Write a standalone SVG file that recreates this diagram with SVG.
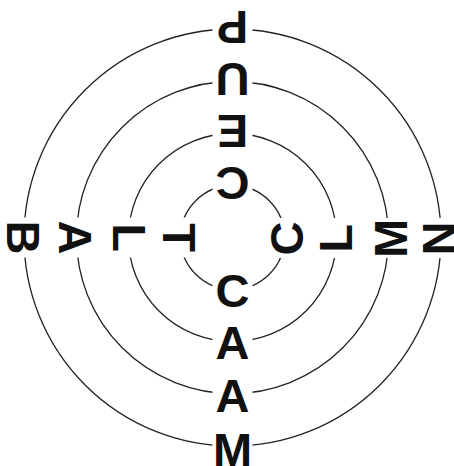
<svg xmlns="http://www.w3.org/2000/svg" width="454" height="466" viewBox="0 0 454 466">
  <style>
    .ring { fill: none; stroke: #222; stroke-width: 1.3; }
    .ltr { font-family: "Liberation Sans", Arial, sans-serif; font-weight: bold; font-size: 47px; fill: #111; text-anchor: middle; }
  </style>
  <defs>
    <mask id="gaps" maskUnits="userSpaceOnUse" x="0" y="0" width="454" height="466">
      <rect x="0" y="0" width="454" height="466" fill="#fff"/>
      <g fill="#000">
        <rect x="212.5" y="162" width="40" height="44"/>
        <rect x="212.5" y="110" width="40" height="44"/>
        <rect x="212.5" y="58" width="40" height="44"/>
        <rect x="212.5" y="6" width="40" height="44"/>
        <rect x="212.5" y="269" width="40" height="44"/>
        <rect x="212.5" y="321" width="40" height="44"/>
        <rect x="212.5" y="373" width="40" height="44"/>
        <rect x="212.5" y="425" width="40" height="44"/>
        <rect x="157.5" y="217.5" width="44" height="40"/>
        <rect x="105.5" y="217.5" width="44" height="40"/>
        <rect x="53.5" y="217.5" width="44" height="40"/>
        <rect x="1.5" y="217.5" width="44" height="40"/>
        <rect x="263.5" y="218" width="44" height="40"/>
        <rect x="315.5" y="218" width="44" height="40"/>
        <rect x="367.5" y="218" width="44" height="40"/>
        <rect x="419.5" y="218" width="44" height="40"/>
      </g>
    </mask>
  </defs>
  <g id="connectors" mask="url(#gaps)">
    <circle class="ring" cx="232.5" cy="237.5" r="52"/>
    <circle class="ring" cx="232.5" cy="237.5" r="104"/>
    <circle class="ring" cx="232.5" cy="237.5" r="156"/>
    <circle class="ring" cx="232.5" cy="237.5" r="208.5"/>
  </g>
  <g id="top-C" transform="translate(232.5,184) rotate(180)"><text class="ltr" x="0" y="17">C</text></g>
  <g id="top-E" transform="translate(232.5,132) rotate(180)"><text class="ltr" x="0" y="17">E</text></g>
  <g id="top-U" transform="translate(232.5,80) rotate(180)"><text class="ltr" x="0" y="17">U</text></g>
  <g id="top-P" transform="translate(232.5,28) rotate(180)"><text class="ltr" x="0" y="17">P</text></g>
  <g id="bottom-C" transform="translate(232.5,290)"><text class="ltr" x="0" y="17">C</text></g>
  <g id="bottom-A1" transform="translate(232.5,342)"><text class="ltr" x="0" y="17">A</text></g>
  <g id="bottom-A2" transform="translate(232.5,395)"><text class="ltr" x="0" y="17">A</text></g>
  <g id="bottom-M" transform="translate(232.5,448.5)"><text class="ltr" x="0" y="17">M</text></g>
  <g id="left-T" transform="translate(179.5,237.5) rotate(90)"><text class="ltr" x="0" y="17">T</text></g>
  <g id="left-L" transform="translate(129.5,237.5) rotate(90)"><text class="ltr" x="0" y="17">L</text></g>
  <g id="left-A" transform="translate(75.5,237.5) rotate(90)"><text class="ltr" x="0" y="17">A</text></g>
  <g id="left-B" transform="translate(24,237.5) rotate(90)"><text class="ltr" x="0" y="17">B</text></g>
  <g id="right-C" transform="translate(285.5,238.5) rotate(-90)"><text class="ltr" x="0" y="17">C</text></g>
  <g id="right-L" transform="translate(335,238.5) rotate(-90)"><text class="ltr" x="0" y="17">L</text></g>
  <g id="right-M" transform="translate(389.5,238.5) rotate(-90)"><text class="ltr" x="0" y="17">M</text></g>
  <g id="right-N" transform="translate(437.5,238.5) rotate(-90)"><text class="ltr" x="0" y="17">N</text></g>
</svg>
